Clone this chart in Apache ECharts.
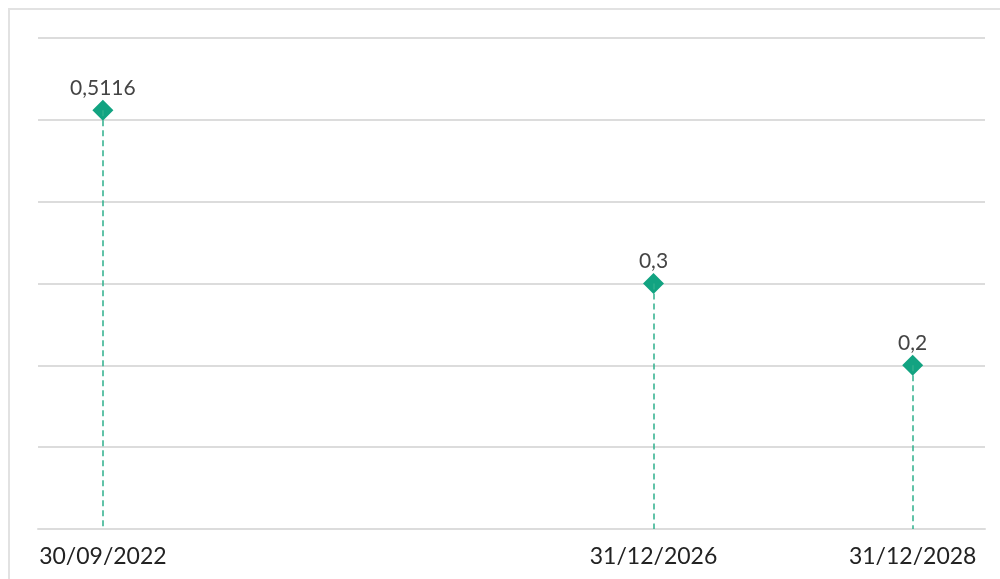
<!DOCTYPE html>
<html>
<head>
<meta charset="utf-8">
<title>chart</title>
<script src="https://cdn.jsdelivr.net/npm/echarts@6/dist/echarts.min.js"></script>
<style>
  html, body { margin: 0; padding: 0; background: #fff; overflow: hidden; }
  #frame { position: absolute; left: 8px; top: 8px; width: 1100px; height: 700px;
           border: 2px solid #e2e2e2; box-sizing: border-box; }
  #main { position: absolute; left: 0; top: 0; width: 1000px; height: 579px; }
</style>
</head>
<body>
<div id="frame"></div>
<div id="main"></div>
<script>
  // data
  var dates = ['2022-09-30', '2026-12-31', '2028-12-31'];
  var values = [0.5116, 0.3, 0.2];

  var green = '#12a381';
  var day = function (s) { var p = s.split('-'); return Date.UTC(+p[0], +p[1] - 1, +p[2]); };
  var stamps = dates.map(day);
  var points = stamps.map(function (t, i) { return [t, values[i]]; });
  var drops = stamps.map(function (t, i) {
    return [{ coord: [t, values[i]] }, { coord: [t, 0] }];
  });

  var myChart = echarts.init(document.getElementById('main'));
  var option = {
    animation: false,
    grid: { left: 38, right: 15, top: 38, bottom: 50 },
    xAxis: {
      type: 'value',
      min: day('2022-03-31'),
      max: day('2029-07-23'),
      axisLine: { show: true, lineStyle: { color: '#dcdcdc', width: 2 } },
      axisTick: { show: false },
      splitLine: { show: false },
      axisLabel: {
        customValues: stamps,
        margin: 16,
        fontFamily: 'Lato',
        fontSize: 23,
        color: '#222',
        formatter: function (v) {
          var dt = new Date(v);
          var dd = ('0' + dt.getUTCDate()).slice(-2);
          var mm = ('0' + (dt.getUTCMonth() + 1)).slice(-2);
          return dd + '/' + mm + '/' + dt.getUTCFullYear();
        }
      }
    },
    yAxis: {
      type: 'value',
      min: 0,
      max: 0.6,
      interval: 0.1,
      axisLine: { show: false },
      axisTick: { show: false },
      axisLabel: { show: false },
      splitLine: { lineStyle: { color: '#dcdcdc', width: 2 } }
    },
    series: [{
      type: 'line',
      data: points,
      lineStyle: { width: 0, opacity: 0 },
      symbol: 'diamond',
      symbolSize: 21,
      itemStyle: { color: green },
      label: {
        show: true,
        position: 'top',
        distance: 1,
        fontFamily: 'Lato',
        fontSize: 21,
        color: '#444',
        formatter: function (p) { return String(p.value[1]).replace('.', ','); }
      },
      markLine: {
        silent: true,
        symbol: 'none',
        label: { show: false },
        lineStyle: { color: '#2eb08c', type: [6, 4], width: 1.5 },
        data: drops
      },
      z: 3
    }]
  };
  myChart.setOption(option);
</script>
</body>
</html>
